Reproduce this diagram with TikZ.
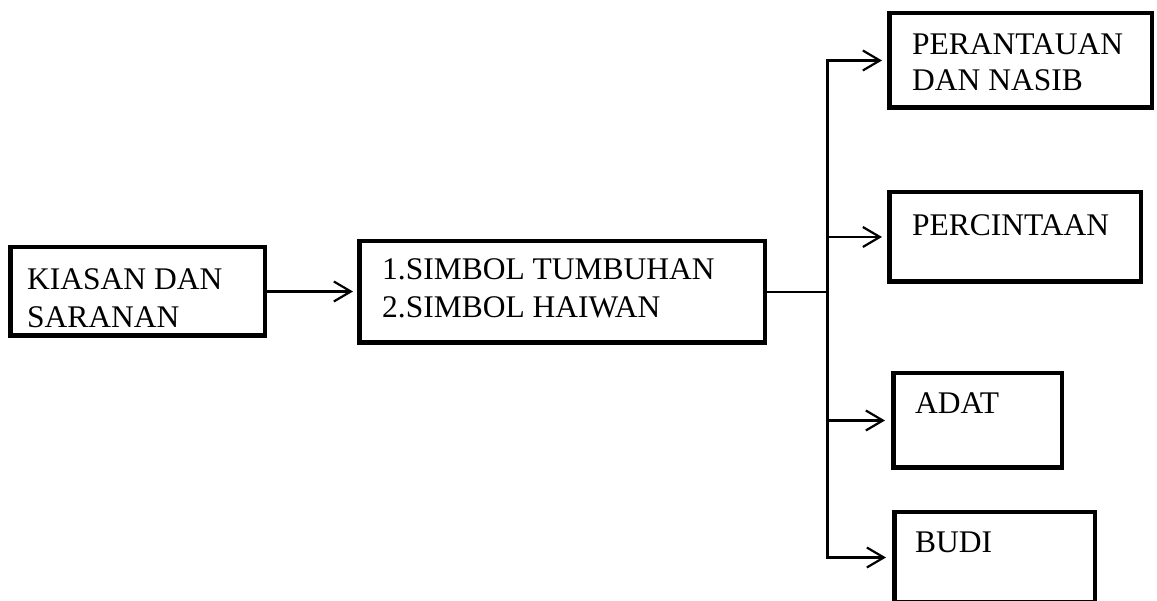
\documentclass[tikz,border=0pt]{standalone}
\usepackage{fontspec}
\setmainfont{Liberation Serif}
\usetikzlibrary{arrows.meta}
\tikzset{
  box/.style={draw=black, line width=4.5pt, rectangle, inner sep=0pt},
  txt/.style={anchor=base west, inner sep=0pt, font=\fontsize{31.5}{37.5}\selectfont},
  conn/.style={draw=black, line width=2.2pt},
  arr/.style={-{Straight Barb[length=17pt,width=20pt,line width=2.2pt]}},
}
\newcommand{\twolines}[2]{\vtop{\hbox{#1}\hbox{#2}}}
\begin{document}
\begin{tikzpicture}[x=1pt,y=1pt]
\useasboundingbox (0,0) rectangle (1157,601);
\fill[white] (0,0) rectangle (1157,601);
% boxes
\node[box, minimum width=254.5pt, minimum height=88.5pt] (b1) at (137.5,309.5) {};
\node[box, minimum width=405.5pt, minimum height=101.5pt] (b2) at (562,309) {};
\node[box, minimum width=262.5pt, minimum height=94.5pt] (t1) at (1020.5,540.5) {};
\node[box, minimum width=251.5pt, minimum height=89.5pt] (t2) at (1015,364) {};
\node[box, minimum width=168.5pt, minimum height=94.5pt] (t3) at (977.5,180.5) {};
\node[box, minimum width=200.5pt, minimum height=90.5pt] (t4) at (994.5,43.5) {};
% texts
\node[txt] (l1) at (27,311) {\twolines{KIASAN DAN}{SARANAN}};
\node[txt] (l2) at (382,321) {\twolines{1.SIMBOL TUMBUHAN}{2.SIMBOL HAIWAN}};
\node[txt] (m1) at (912,546) {\vtop{\baselineskip=35.5pt\hbox{PERANTAUAN}\hbox{DAN NASIB}}};
\node[txt] (m2) at (912,365) {PERCINTAAN};
\node[txt] (m3) at (915,187) {ADAT};
\node[txt] (m4) at (915,48) {BUDI};
% connectors
\coordinate (j) at (827.5,309);
\draw[conn,arr] (b1.east) -- ([xshift=-4pt]b1.east -| b2.west);
\draw[conn] (b2.east) -- (j);
\draw[conn,arr] (j) |- ([xshift=-5pt]t1.west);
\draw[conn,arr] (j) |- ([xshift=-5pt]t2.west);
\draw[conn,arr] (j) |- ([xshift=-6pt]t3.west);
\draw[conn,arr] (j) |- ([xshift=-6pt]t4.west);
\end{tikzpicture}
\end{document}
